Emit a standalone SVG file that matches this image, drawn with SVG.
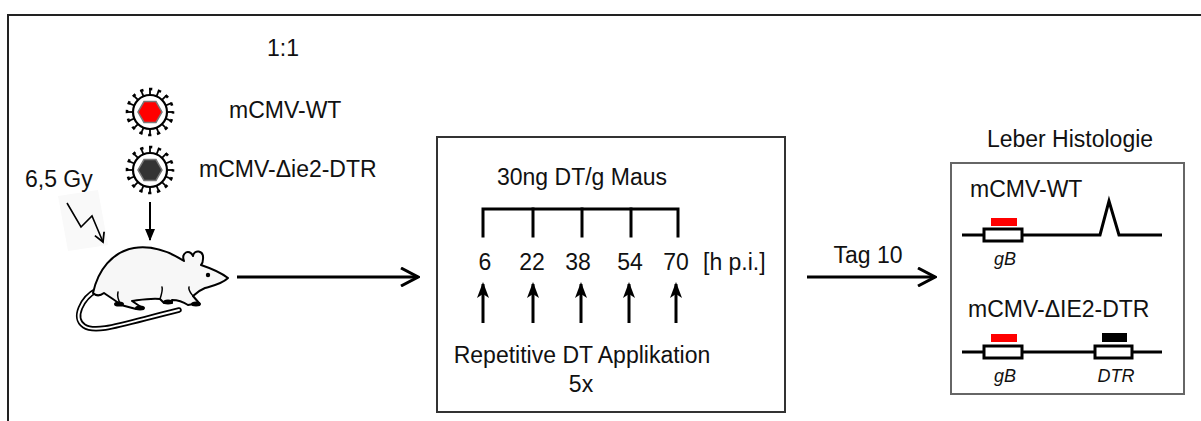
<svg xmlns="http://www.w3.org/2000/svg" width="1201" height="421" viewBox="0 0 1201 421">
  <style>
    .t { font-family: "Liberation Sans", Arial, sans-serif; font-size: 23px; fill: #111; }
    .it { font-family: "Liberation Sans", Arial, sans-serif; font-size: 18px; font-style: italic; fill: #111; }
    .mid { text-anchor: middle; }
    .line { stroke: #000; stroke-width: 3; fill: none; }
    .frame { stroke: #222; stroke-width: 2; fill: none; }
  </style>
  <defs>
    <!-- virus envelope: ring with 16 knobbed spikes -->
    <g id="envelope">
      <g stroke="#000" stroke-width="1.8">
        <line x1="17" y1="0" x2="23" y2="0" transform="rotate(0)"/>
        <line x1="17" y1="0" x2="23" y2="0" transform="rotate(22.5)"/>
        <line x1="17" y1="0" x2="23" y2="0" transform="rotate(45)"/>
        <line x1="17" y1="0" x2="23" y2="0" transform="rotate(67.5)"/>
        <line x1="17" y1="0" x2="23" y2="0" transform="rotate(90)"/>
        <line x1="17" y1="0" x2="23" y2="0" transform="rotate(112.5)"/>
        <line x1="17" y1="0" x2="23" y2="0" transform="rotate(135)"/>
        <line x1="17" y1="0" x2="23" y2="0" transform="rotate(157.5)"/>
        <line x1="17" y1="0" x2="23" y2="0" transform="rotate(180)"/>
        <line x1="17" y1="0" x2="23" y2="0" transform="rotate(202.5)"/>
        <line x1="17" y1="0" x2="23" y2="0" transform="rotate(225)"/>
        <line x1="17" y1="0" x2="23" y2="0" transform="rotate(247.5)"/>
        <line x1="17" y1="0" x2="23" y2="0" transform="rotate(270)"/>
        <line x1="17" y1="0" x2="23" y2="0" transform="rotate(292.5)"/>
        <line x1="17" y1="0" x2="23" y2="0" transform="rotate(315)"/>
        <line x1="17" y1="0" x2="23" y2="0" transform="rotate(337.5)"/>
      </g>
      <circle r="23" fill="none" stroke="#000" stroke-width="2.6" stroke-dasharray="3.4 5.63" stroke-dashoffset="1.7"/>
      <circle r="17" fill="#fff" stroke="#000" stroke-width="2.2"/>
    </g>
    <polygon id="capsid" points="12,0 6,-10.4 -6,-10.4 -12,0 -6,10.4 6,10.4"/>
    <marker id="chev" viewBox="0 0 20 20" refX="18" refY="10" markerWidth="20" markerHeight="20" markerUnits="userSpaceOnUse" orient="auto">
      <polyline points="1,1 18,10 1,19" fill="none" stroke="#000" stroke-width="3"/>
    </marker>
    <marker id="up" viewBox="0 0 16 12" refX="14" refY="6" markerWidth="16" markerHeight="12" markerUnits="userSpaceOnUse" orient="auto">
      <polygon points="16,6 0,0 4,6 0,12" fill="#000"/>
    </marker>
    <marker id="down" viewBox="0 0 12 10" refX="11" refY="5" markerWidth="12" markerHeight="10" markerUnits="userSpaceOnUse" orient="auto">
      <polygon points="0,0 12,5 0,10" fill="#000"/>
    </marker>
    <marker id="bolt" viewBox="0 0 12 12" refX="10" refY="6" markerWidth="12" markerHeight="12" markerUnits="userSpaceOnUse" orient="auto">
      <polyline points="1,1 10,6 1,11" fill="none" stroke="#000" stroke-width="1.8"/>
    </marker>
  </defs>

  <!-- outer frame (top and left edges) -->
  <path class="frame" d="M8,421 V15 H1201"/>

  <!-- infection mix -->
  <g id="mix">
    <text class="t mid" x="283" y="56">1:1</text>
    <g id="virus-wt" transform="translate(150,112)">
      <use href="#envelope"/>
      <use href="#capsid" fill="#ff0000" stroke="#777" stroke-width="1.5"/>
    </g>
    <text class="t" x="229" y="118">mCMV-WT</text>
    <g id="virus-dtr" transform="translate(150,170)">
      <use href="#envelope"/>
      <use href="#capsid" fill="#333" stroke="#777" stroke-width="1.5"/>
    </g>
    <text class="t" x="199" y="177">mCMV-Δie2-DTR</text>
  </g>

  <!-- irradiation -->
  <g id="irradiation">
    <text class="t" x="25" y="187">6,5 Gy</text>
    <polygon points="58,196 98,190 108,245 68,251" fill="#f9f9f9"/>
    <polyline points="67,203 81,227 92,216 103,242" fill="none" stroke="#000" stroke-width="1.6" marker-end="url(#bolt)"/>
  </g>

  <!-- mouse -->
  <g id="mouse" stroke-linejoin="round" stroke-linecap="round">
    <path d="M97,290 C82,298 72,318 84,326 C96,334 122,324 179,310" fill="none" stroke="#000" stroke-width="5.5"/>
    <path d="M97,290 C82,298 72,318 84,326 C96,334 122,324 179,310" fill="none" stroke="#fff" stroke-width="2"/>
    <path d="M93,293 C98,270 112,252 134,248 C154,245 170,252 184,261
             C181,253 189,248 193,256 C194,249 204,250 203,259 C203,262 202,264 201,265
             C210,268 220,272 228,278 C222,284 212,286 205,288
             C200,290 196,293 193,296 L199,303 L188,305
             C182,301 177,300 172,300 L172,303 L164,303 L160,299
             C150,298 140,300 132,301 L141,307 L136,309 L121,305
             C115,300 108,296 104,293 C100,296 96,296 93,293 Z"
          fill="#f7f7f7" stroke="#000" stroke-width="2"/>
    <path d="M160,299 C162,293 163,290 162,287" fill="none" stroke="#000" stroke-width="1.5"/>
    <path d="M193,296 C190,292 188,290 189,287" fill="none" stroke="#000" stroke-width="1.5"/>
    <path d="M121,305 C118,300 117,296 118,292" fill="none" stroke="#000" stroke-width="1.5"/>
    <ellipse cx="119" cy="304" rx="5" ry="2.6" fill="#000" stroke="none"/>
    <ellipse cx="140" cy="308" rx="5" ry="2.5" fill="#000" stroke="none"/>
    <ellipse cx="168" cy="302" rx="5" ry="2.5" fill="#000" stroke="none"/>
    <ellipse cx="196" cy="304" rx="5" ry="2.5" fill="#000" stroke="none"/>
    <circle cx="208" cy="275" r="2.2" fill="#000" stroke="none"/>
  </g>

  <!-- DT treatment schedule -->
  <g id="treatment">
    <rect x="437" y="137" width="348" height="275" fill="none" stroke="#333" stroke-width="2"/>
    <text class="t mid" x="582" y="185">30ng DT/g Maus</text>
    <g class="line" stroke-linecap="square">
      <path d="M483,236 V209 H678 V236"/>
      <line x1="533" y1="209" x2="533" y2="236"/>
      <line x1="582" y1="209" x2="582" y2="236"/>
      <line x1="631" y1="209" x2="631" y2="236"/>
    </g>
    <text class="t mid" x="485" y="270">6</text>
    <text class="t mid" x="532" y="270">22</text>
    <text class="t mid" x="578" y="270">38</text>
    <text class="t mid" x="630" y="270">54</text>
    <text class="t mid" x="676" y="270">70</text>
    <text class="t" x="703" y="270">[h p.i.]</text>
    <text class="t mid" x="582" y="363">Repetitive DT Applikation</text>
    <text class="t mid" x="581" y="392">5x</text>
  </g>

  <!-- liver histology readout -->
  <g id="histology">
    <text class="t mid" x="1070" y="147">Leber Histologie</text>
    <rect x="951" y="163" width="233" height="231" fill="none" stroke="#666" stroke-width="2"/>
    <text class="t" x="970" y="197">mCMV-WT</text>
    <path class="line" d="M962,235 H1100 L1109,201 L1119,235 H1162"/>
    <rect x="991" y="218" width="26" height="8" fill="#ff0000"/>
    <rect x="984" y="229" width="38" height="12" fill="#fff" stroke="#000" stroke-width="3"/>
    <text class="it mid" x="1005" y="265">gB</text>
    <text class="t" x="968" y="317">mCMV-ΔIE2-DTR</text>
    <line class="line" x1="962" y1="352" x2="1162" y2="352"/>
    <rect x="991" y="334" width="26" height="8" fill="#ff0000"/>
    <rect x="984" y="346" width="38" height="12" fill="#fff" stroke="#000" stroke-width="3"/>
    <rect x="1102" y="333" width="25" height="9" fill="#000"/>
    <rect x="1095" y="346" width="37" height="12" fill="#fff" stroke="#000" stroke-width="3"/>
    <text class="it mid" x="1005" y="382">gB</text>
    <text class="it mid" x="1116" y="382">DTR</text>
  </g>

  <!-- connectors -->
  <g id="connectors" class="line">
    <line x1="150" y1="202" x2="150" y2="240" stroke-width="2" marker-end="url(#down)"/>
    <line x1="237" y1="277" x2="418" y2="277" marker-end="url(#chev)"/>
    <line x1="807" y1="277" x2="935" y2="277" marker-end="url(#chev)"/>
    <line x1="483" y1="323" x2="483" y2="284" marker-end="url(#up)"/>
    <line x1="533" y1="323" x2="533" y2="284" marker-end="url(#up)"/>
    <line x1="581" y1="323" x2="581" y2="284" marker-end="url(#up)"/>
    <line x1="629" y1="323" x2="629" y2="284" marker-end="url(#up)"/>
    <line x1="676" y1="323" x2="676" y2="284" marker-end="url(#up)"/>
    <text class="t mid" x="868" y="263" stroke="none">Tag 10</text>
  </g>
</svg>
